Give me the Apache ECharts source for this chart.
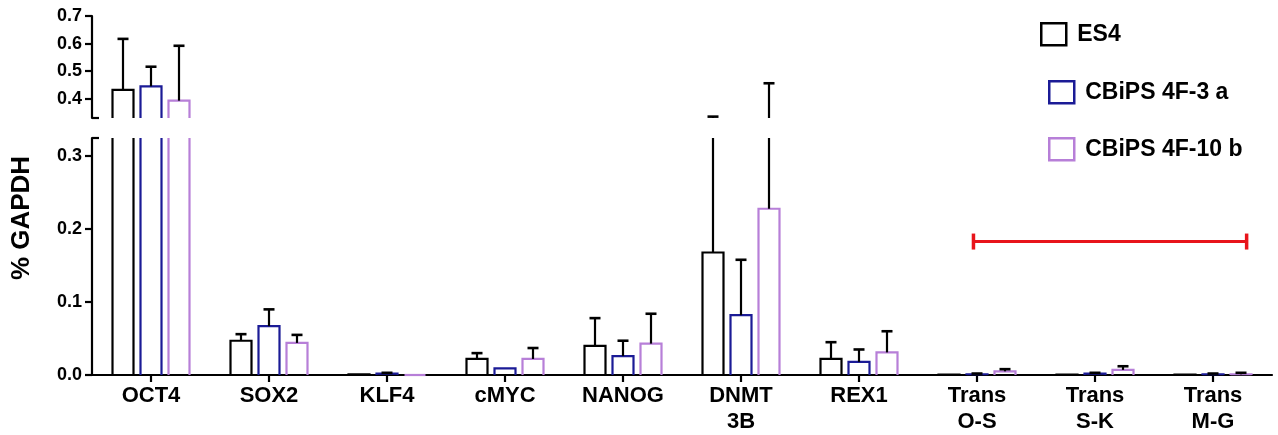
<!DOCTYPE html>
<html>
<head>
<meta charset="utf-8">
<script src="https://cdn.jsdelivr.net/npm/echarts@6/dist/echarts.min.js"></script>
<style>
html,body{margin:0;padding:0;background:#fff;}
#chart{width:1278px;height:435px;}
</style>
</head>
<body>
<div id="chart"></div>
<script>
// ---- data ----
const categories = ['OCT4','SOX2','KLF4','cMYC','NANOG','DNMT\n3B','REX1','Trans\nO-S','Trans\nS-K','Trans\nM-G'];
const seriesNames = ['ES4','CBiPS 4F-3 a','CBiPS 4F-10 b'];
const es4Mean   = [0.432,0.047,0.001,0.022,0.040,0.168,0.022,0.0005,0.0005,0.0005];
const es4Err    = [0.185,0.009,0,    0.008,0.038,0.167,0.023,0,     0,     0];
const ips3Mean  = [0.445,0.067,0.002,0.009,0.026,0.082,0.018,0.001,0.002,0.001];
const ips3Err   = [0.071,0.023,0.001,0,    0.021,0.076,0.017,0.001,0.001,0.001];
const ips10Mean = [0.393,0.044,0,    0.022,0.043,0.228,0.031,0.005,0.007,0.001];
const ips10Err  = [0.199,0.011,0,    0.015,0.041,0.228,0.029,0.003,0.005,0.002];
const lowerTicks = [0, 0.1, 0.2, 0.3];
const upperTicks = [0.4, 0.5, 0.6, 0.7];
const lowerRange = [0, 0.325];
const upperRange = [0.33, 0.7];
const bracketFrom = 'Trans\nO-S';
const bracketTo = 'Trans\nM-G';
const bracketValue = 0.183;

// ---- style ----
const colors = ['#000000', '#1b1b96', '#b77fd8'];
const FONT = "'Liberation Sans', Arial, Helvetica, sans-serif";
const GROUP_STEP = 28/118, BAR_FRAC = 21/118, CAP_FRAC = 11/118;

const means = [es4Mean, ips3Mean, ips10Mean];
const errs = [es4Err, ips3Err, ips10Err];

function makeRender(sIdx, lo, hi, isUpper) {
  return function (params, api) {
    const idx = api.value(0), v = api.value(1), e = api.value(2);
    const band = api.size([1, 0])[0];
    const cx = api.coord([idx, lo])[0] + (sIdx - 1) * band * GROUP_STEP;
    const w = band * BAR_FRAC, cap = band * CAP_FRAC;
    const Y = val => api.coord([idx, val])[1];
    const col = colors[sIdx];
    const kids = [];
    const x0 = cx - w / 2, x1 = cx + w / 2;
    const top = v + e;
    const barStyle = {stroke: col, lineWidth: 2.2, fill: null};
    const errStyle = {stroke: '#000', lineWidth: 2.2};
    const capStyle = {stroke: '#000', lineWidth: 2.6};
    const yb = Y(lo);
    if (!isUpper) {
      if (v <= hi) {
        kids.push({type: 'polyline', shape: {points: [[x0, yb], [x0, Y(v)], [x1, Y(v)], [x1, yb]]}, style: barStyle});
      } else {
        kids.push({type: 'line', shape: {x1: x0, y1: yb, x2: x0, y2: Y(hi)}, style: barStyle});
        kids.push({type: 'line', shape: {x1: x1, y1: yb, x2: x1, y2: Y(hi)}, style: barStyle});
      }
      if (e > 0 && v < hi) {
        kids.push({type: 'line', shape: {x1: cx, y1: Y(v), x2: cx, y2: Y(Math.min(top, hi))}, style: errStyle});
        if (top <= hi) kids.push({type: 'line', shape: {x1: cx - cap / 2, y1: Y(top), x2: cx + cap / 2, y2: Y(top)}, style: capStyle});
      }
    } else {
      if (v > lo) {
        kids.push({type: 'polyline', shape: {points: [[x0, yb], [x0, Y(v)], [x1, Y(v)], [x1, yb]]}, style: barStyle});
      }
      if (e > 0 && top > lo) {
        kids.push({type: 'line', shape: {x1: cx, y1: Y(Math.max(v, lo)), x2: cx, y2: Y(top)}, style: errStyle});
        kids.push({type: 'line', shape: {x1: cx - cap / 2, y1: Y(top), x2: cx + cap / 2, y2: Y(top)}, style: capStyle});
      }
    }
    return {type: 'group', children: kids};
  };
}

const series = [];
[0, 1, 2].forEach(s => {
  const data = categories.map((c, i) => [i, means[s][i], errs[s][i]]);
  series.push({
    type: 'custom', name: seriesNames[s], xAxisIndex: 0, yAxisIndex: 0,
    renderItem: makeRender(s, upperRange[0], upperRange[1], true),
    encode: {x: 0, y: 1}, data: data, silent: true,
    itemStyle: {color: 'rgba(0,0,0,0)', borderColor: colors[s], borderWidth: 2}
  });
  series.push({
    type: 'custom', name: seriesNames[s], xAxisIndex: 1, yAxisIndex: 2,
    renderItem: makeRender(s, lowerRange[0], lowerRange[1], false),
    encode: {x: 0, y: 1}, data: data, silent: true,
    itemStyle: {color: 'rgba(0,0,0,0)', borderColor: colors[s], borderWidth: 2}
  });
});
series.push({
  type: 'custom', xAxisIndex: 1, yAxisIndex: 2, silent: true,
  encode: {x: [0, 1], y: 2},
  data: [[categories.indexOf(bracketFrom), categories.indexOf(bracketTo), bracketValue]],
  renderItem: function (params, api) {
    const band = api.size([1, 0])[0];
    const y = api.coord([api.value(0), api.value(2)])[1];
    const xa = api.coord([api.value(0), api.value(2)])[0] - 0.03 * band;
    const xb = api.coord([api.value(1), api.value(2)])[0] + 0.285 * band;
    const st = {stroke: '#e8141b', lineWidth: 3};
    return {type: 'group', children: [
      {type: 'line', shape: {x1: xa, y1: y, x2: xb, y2: y}, style: st},
      {type: 'line', shape: {x1: xa, y1: y - 8, x2: xa, y2: y + 8}, style: {stroke: '#e8141b', lineWidth: 3.5}},
      {type: 'line', shape: {x1: xb, y1: y - 8, x2: xb, y2: y + 8}, style: {stroke: '#e8141b', lineWidth: 3.5}}
    ]};
  }
});

function legendFor(i, left, top) {
  return {
    left: left, top: top, orient: 'vertical', icon: 'rect',
    itemWidth: 25, itemHeight: 22, itemGap: 14, selectedMode: false,
    textStyle: {fontFamily: FONT, fontWeight: 'bold', fontSize: 23, color: '#000', padding: [0, 0, 0, 6]},
    data: [{name: seriesNames[i], itemStyle: {color: 'rgba(0,0,0,0)', borderColor: colors[i], borderWidth: 2.5}}]
  };
}

const axisLineStyle = {show: true, lineStyle: {color: '#000', width: 2.2}};
const labelStyle = {fontFamily: FONT, fontWeight: 'bold', fontSize: 18, color: '#000', margin: 10};

const option = {
  animation: false,
  backgroundColor: '#fff',
  grid: [
    {left: 92, width: 1180, top: 16, height: 102, containLabel: false, outerBoundsMode: 'none'},
    {left: 92, width: 1180, top: 138, height: 237, containLabel: false, outerBoundsMode: 'none'}
  ],
  xAxis: [
    {type: 'category', gridIndex: 0, data: categories, show: false},
    {type: 'category', gridIndex: 1, data: categories,
      axisLine: axisLineStyle,
      axisTick: {show: true, alignWithLabel: true, length: 7, lineStyle: {color: '#000', width: 2.2}},
      axisLabel: {fontFamily: FONT, fontWeight: 'bold', fontSize: 22, color: '#000', margin: 8, lineHeight: 26, interval: 0}
    }
  ],
  yAxis: [
    {type: 'value', gridIndex: 0, min: upperRange[0], max: upperRange[1],
      axisLine: axisLineStyle, splitLine: {show: false},
      axisTick: {show: true, length: 7, customValues: upperTicks, lineStyle: {color: '#000', width: 2.2}},
      axisLabel: Object.assign({customValues: upperTicks, formatter: v => v.toFixed(1)}, labelStyle)
    },
    {type: 'value', gridIndex: 0, min: upperRange[0], max: upperRange[1], position: 'left',
      axisLine: {show: false}, splitLine: {show: false}, axisLabel: {show: false},
      axisTick: {show: true, inside: true, length: 7, customValues: [upperRange[0]], lineStyle: {color: '#000', width: 2.2}}
    },
    {type: 'value', gridIndex: 1, min: lowerRange[0], max: lowerRange[1],
      axisLine: axisLineStyle, splitLine: {show: false},
      axisTick: {show: true, length: 7, customValues: lowerTicks, lineStyle: {color: '#000', width: 2.2}},
      axisLabel: Object.assign({customValues: lowerTicks, formatter: v => v.toFixed(1)}, labelStyle)
    },
    {type: 'value', gridIndex: 1, min: lowerRange[0], max: lowerRange[1], position: 'left',
      axisLine: {show: false}, splitLine: {show: false}, axisLabel: {show: false},
      axisTick: {show: true, inside: true, length: 7, customValues: [lowerRange[1]], lineStyle: {color: '#000', width: 2.2}}
    }
  ],
  legend: [legendFor(0, 1035, 17), legendFor(1, 1043, 75), legendFor(2, 1043, 132)],
  graphic: [{
    type: 'text', x: 22, y: 218, rotation: Math.PI / 2,
    style: {text: '% GAPDH', fontFamily: FONT, fontWeight: 'bold', fontSize: 26, fill: '#000', align: 'center', verticalAlign: 'middle'}
  }],
  series: series
};

const chart = echarts.init(document.getElementById('chart'), null, {renderer: 'canvas'});
chart.setOption(option);
</script>
</body>
</html>
